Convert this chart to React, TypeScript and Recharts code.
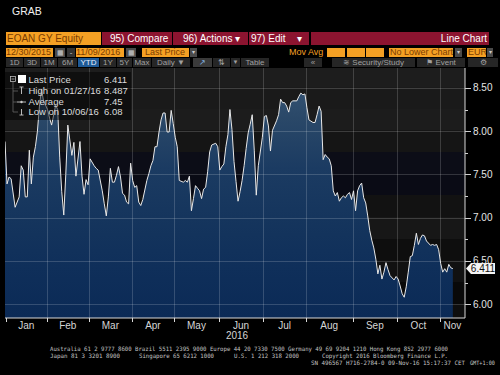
import React from 'react';
import { AreaChart, Area, XAxis, YAxis, ReferenceLine } from 'recharts';

// ---- data (trading-day index since 12/30/2015, last price in EUR) ----
const dayIndex = [
  0, 1, 2, 3, 5, 7, 8, 9, 10, 11, 12, 13, 14, 15, 16, 17, 18, 19, 21, 22, 23, 25, 26, 27, 28, 29, 30, 31, 33, 34, 35, 37, 38, 39, 40, 41, 42, 44, 45, 46, 48, 49, 50,
  51, 52, 53, 54, 55, 56, 57, 58, 59, 60, 61, 62, 63, 64, 65, 66, 67, 68, 70, 71, 72, 73, 74, 75, 76, 77, 78, 79, 80, 81, 82, 83, 84, 85, 86, 88, 89, 90,
  91, 92, 93, 94, 95, 96, 97, 98, 99, 100, 101, 102, 104, 105, 106, 107, 108, 109, 110, 111, 112, 113, 114, 115, 116, 117, 118, 119, 120, 121, 122, 123, 124, 125, 127, 128, 129, 130,
  131, 132, 134, 135, 136, 137, 138, 139, 140, 141, 142, 144, 145, 146, 147, 148, 149, 150, 152, 153, 154, 155, 156, 157, 158, 159, 160, 161, 162, 163, 164, 165, 166, 167, 168, 169, 170,
  171, 172, 173, 174, 175, 176, 177, 178, 179, 180, 181, 182, 183, 184, 185, 186, 187, 188, 189, 190, 192, 193, 194, 195, 196, 197, 198, 199, 200, 201, 202, 203, 204, 205, 206, 207, 208, 210,
  211, 212, 213, 214, 215, 216, 217, 218, 219, 220, 221,
];
const price = [
  7.88, 7.39, 7.47, 7.45, 7.12, 7.24, 7.60, 7.55, 7.24, 7.24, 7.78, 7.39, 7.70, 7.82, 8.00, 8.29, 8.487, 8.35, 8.25, 8.15, 8.07, 8.30, 8.25, 7.70, 7.30, 7.03, 7.50, 8.07, 7.72, 7.87, 7.48, 7.88, 7.48, 7.27, 7.44, 7.38, 7.68, 7.60, 7.57, 7.55, 7.31, 7.16, 7.02,
  7.24, 7.57, 7.41, 7.41, 7.49, 7.59, 7.47, 7.28, 7.26, 7.18, 7.16, 7.63, 7.43, 7.35, 7.37, 7.18, 7.14, 7.21, 7.43, 7.51, 7.60, 7.66, 7.82, 7.82, 7.99, 8.13, 8.21, 8.21, 7.99, 7.99, 8.24, 8.09, 7.93, 7.82, 7.43, 7.41, 7.43, 7.41,
  7.48, 7.08, 7.22, 7.37, 7.34, 7.31, 7.22, 7.33, 7.35, 7.53, 7.76, 7.84, 7.86, 7.82, 7.55, 7.59, 7.62, 7.82, 7.96, 8.25, 8.02, 7.65, 7.42, 7.19, 7.30, 7.43, 7.60, 7.80, 7.98, 8.08, 8.19, 7.78, 7.26, 7.60, 7.93, 8.17, 8.18, 8.06,
  7.77, 8.01, 8.12, 8.19, 8.37, 8.33, 8.33, 8.29, 8.22, 8.33, 8.35, 8.35, 8.40, 8.44, 8.42, 8.43, 8.27, 8.13, 8.10, 8.10, 8.19, 8.29, 8.23, 7.67, 7.73, 7.70, 7.68, 7.60, 7.31, 7.25, 7.29, 7.19, 7.23, 7.25, 7.23, 7.27, 7.29,
  7.21, 7.31, 7.08, 7.31, 7.37, 7.40, 7.23, 7.17, 7.02, 6.85, 6.74, 6.65, 6.52, 6.35, 6.45, 6.29, 6.37, 6.48, 6.40, 6.33, 6.28, 6.32, 6.29, 6.21, 6.12, 6.08, 6.20, 6.37, 6.55, 6.56, 6.68, 6.82, 6.69, 6.76, 6.80, 6.79, 6.73, 6.68,
  6.69, 6.68, 6.69, 6.63, 6.47, 6.37, 6.41, 6.37, 6.46, 6.42, 6.411,
];
const months = ['Jan', 'Feb', 'Mar', 'Apr', 'May', 'Jun', 'Jul', 'Aug', 'Sep', 'Oct', 'Nov'];
const monthFirstDay = [1, 21, 42, 63, 84, 106, 128, 149, 172, 194, 215];
const xMax = 227;
const yDomain = [5.84, 8.73];
const yMajor = [6.0, 6.5, 7.0, 7.5, 8.0, 8.5];
const yMinor = [6.25, 6.75, 7.25, 7.75, 8.25];
const lastPrice = 6.411;
const legendRows = [
  { label: 'Last Price', value: '6.411' },
  { label: 'High on 01/27/16', value: '8.487' },
  { label: 'Average', value: '7.45' },
  { label: 'Low on 10/06/16', value: '6.08' },
];

const data = dayIndex.map((d, i) => ({ d, p: price[i] }));
const boundaries = monthFirstDay.map((d) => d - 0.5);
const labelCenters = monthFirstDay.map((d, i) => {
  const start = d - 0.5;
  const end = i + 1 < monthFirstDay.length ? monthFirstDay[i + 1] - 0.5 : xMax;
  return (start + end) / 2;
});
const xTicks = [...boundaries, ...labelCenters].sort((a, b) => a - b);

// layout
const M = { top: 68, right: 0, bottom: 37, left: 5 };
const W = 500;
const H = 375;
const X_AXIS_H = 20;
const Y_AXIS_W = 35;
const PLOT_W = W - M.left - M.right - Y_AXIS_W;
const PLOT_H = H - M.top - M.bottom - X_AXIS_H;

const FONT = '"Liberation Sans", Arial, sans-serif';
const ORANGE = '#f4a024';
const ORANGE_TXT = '#7a3c00';
const RED = '#8c1430';
const BTN = '#262626';
const BTN_TXT = '#a0a0a0';

const crisp = (v: number) => Math.round(v) + 0.5;

function GridRule(p: { x1: number; y1: number; x2: number; y2: number }) {
  return (
    <line x1={p.x1} y1={p.y1} x2={p.x2} y2={p.y2} stroke="#ffffff" strokeOpacity={0.17} strokeWidth={1} shapeRendering="crispEdges" />
  );
}

function XTick(props: any) {
  const { x, y, payload } = props;
  const v = payload.value;
  const bi = boundaries.indexOf(v);
  if (bi >= 0) {
    const cx = crisp(x);
    return (
      <g>
        {bi > 0 && <GridRule x1={cx} x2={cx} y1={Math.round(y)} y2={Math.round(y) - PLOT_H} />}
        <line x1={cx} x2={cx} y1={y} y2={y + 4} stroke="#d8d8d8" strokeWidth={1} shapeRendering="crispEdges" />
      </g>
    );
  }
  const li = labelCenters.indexOf(v);
  return (
    <text x={x} y={y + 11} textAnchor="middle" fill="#d6d6d6" fontSize={10} fontFamily={FONT}>
      {months[li]}
    </text>
  );
}

function YTick(props: any) {
  const { x, y, payload } = props;
  const v = payload.value as number;
  const major = yMajor.includes(v);
  const cy = crisp(y);
  return (
    <g>
      {major && <GridRule x1={x} x2={x - PLOT_W} y1={cy} y2={cy} />}
      <line x1={x} x2={x + (major ? 6 : 3)} y1={cy} y2={cy} stroke="#d0d0d0" strokeWidth={1} shapeRendering="crispEdges" />
      {major && (
        <text x={x + 8} y={y + 3.5} fill="#e4e4e4" fontSize={10} fontFamily={FONT}>
          {v.toFixed(2)}
        </text>
      )}
    </g>
  );
}

function LastLabel(props: any) {
  const vb = props.viewBox || {};
  const x = (vb.x || 0) + (vb.width || 0) + 1;
  const y = vb.y || 0;
  return (
    <g>
      <polygon
        points={`${x},${y} ${x + 5},${y - 5.5} ${x + 29},${y - 5.5} ${x + 29},${y + 5.5} ${x + 5},${y + 5.5}`}
        fill="#f4f4f4"
      />
      <text x={x + 17} y={y + 3.5} textAnchor="middle" fill="#111" fontSize={10} fontFamily={FONT}>
        {lastPrice.toFixed(3)}
      </text>
    </g>
  );
}

function Box(p: {
  x: number; y: number; w: number; h: number; bg?: string; color?: string; size?: number;
  align?: 'left' | 'center' | 'right'; pad?: number; children?: React.ReactNode;
}) {
  return (
    <div
      style={{
        position: 'absolute', left: p.x, top: p.y, width: p.w, height: p.h, background: p.bg || 'transparent',
        color: p.color || '#fff', fontSize: p.size || 9, lineHeight: `${p.h}px`, textAlign: p.align || 'left',
        paddingLeft: p.align === 'right' ? 0 : p.pad ?? 1, paddingRight: p.align === 'right' ? p.pad ?? 2 : 0,
        boxSizing: 'border-box', whiteSpace: 'nowrap', overflow: 'hidden', fontFamily: FONT,
      }}
    >
      {p.children}
    </div>
  );
}

const bandBg =
  'linear-gradient(to bottom, #1d1d1d 0%, #1d1d1d 7.6%, #1a1a1a 7.6%, #1a1a1a 16.3%, #1c1c1c 16.3%, #1c1c1c 25%, ' +
  '#151515 25%, #151515 33.6%, #0c0d17 33.6%, #0c0d17 42.3%, #0a0b15 42.3%, #0a0b15 51%, #121212 51%, #121212 59.6%, ' +
  '#171717 59.6%, #171717 68.3%, #0e0e0e 68.3%, #0e0e0e 77%, #111111 77%, #111111 85.6%, #090909 85.6%, #090909 94.3%, #0e0e0e 94.3%)';

const btnRow: [string, number, number, boolean?][] = [
  ['1D', 6, 17], ['3D', 24, 16], ['1M', 41, 16], ['6M', 58, 19], ['YTD', 78, 21, true], ['1Y', 100, 16],
  ['5Y', 117, 15], ['Max', 133, 18], ['Daily \u25BC', 152, 38],
];

export default function App() {
  return (
    <div style={{ position: 'absolute', left: 0, top: 0, width: W, height: H, background: '#000', overflow: 'hidden', fontFamily: FONT }}>
      {/* plot background bands */}
      <div style={{ position: 'absolute', left: M.left, top: M.top, width: PLOT_W, height: PLOT_H, background: bandBg }} />

      <div style={{ position: 'absolute', left: 0, top: 0, width: W, height: H }}>
        <AreaChart width={W} height={H} data={data} margin={M}>
          <defs>
            <linearGradient id="fillGrad" x1="0" y1="68" x2="0" y2="318" gradientUnits="userSpaceOnUse">
              <stop offset="0" stopColor="#3a5878" />
              <stop offset="0.2" stopColor="#2a4868" />
              <stop offset="0.4" stopColor="#1b3b62" />
              <stop offset="0.6" stopColor="#15355d" />
              <stop offset="0.8" stopColor="#0f2f5a" />
              <stop offset="1" stopColor="#0b2a56" />
            </linearGradient>
          </defs>
          <Area
            type="linear"
            dataKey="p"
            stroke="#e8e8e8"
            strokeWidth={1}
            fill="url(#fillGrad)"
            fillOpacity={1}
            dot={false}
            activeDot={false}
            isAnimationActive={false}
          />
          <XAxis
            dataKey="d"
            type="number"
            domain={[0, xMax]}
            allowDataOverflow
            ticks={xTicks}
            interval={0}
            tick={<XTick />}
            tickLine={false}
            tickSize={0}
            tickMargin={0}
            height={X_AXIS_H}
            axisLine={{ stroke: '#d8d8d8', strokeWidth: 1 }}
          />
          <YAxis
            orientation="right"
            type="number"
            domain={yDomain}
            allowDataOverflow
            ticks={[...yMajor, ...yMinor].sort((a, b) => a - b)}
            interval={0}
            tick={<YTick />}
            tickLine={false}
            tickSize={0}
            tickMargin={0}
            width={Y_AXIS_W}
            axisLine={{ stroke: '#d8d8d8', strokeWidth: 1 }}
          />
          <ReferenceLine y={lastPrice} stroke="none" strokeOpacity={0} ifOverflow="visible" label={(p: any) => <LastLabel {...p} />} />
        </AreaChart>
      </div>

      {/* legend overlay */}
      <div style={{ position: 'absolute', left: 5, top: 72, width: 126, height: 48, background: 'rgba(0,0,0,0.45)' }} />
      <svg width={W} height={H} style={{ position: 'absolute', left: 0, top: 0, pointerEvents: 'none' }}>
        {/* legend tree */}
        <rect x={10.5} y={76.5} width={5} height={5} fill="none" stroke="#bbb" strokeWidth={0.8} />
        <line x1={11.5} x2={14.5} y1={79} y2={79} stroke="#bbb" strokeWidth={0.8} />
        <rect x={18} y={75} width={8} height={8} fill="#fff" />
        <line x1={13} x2={13} y1={82} y2={112} stroke="#666" strokeWidth={0.8} />
        <line x1={13} x2={18} y1={91} y2={91} stroke="#666" strokeWidth={0.8} />
        <line x1={13} x2={17} y1={102} y2={102} stroke="#666" strokeWidth={0.8} />
        <line x1={13} x2={18} y1={112} y2={112} stroke="#666" strokeWidth={0.8} />
        <line x1={19.5} x2={23.5} y1={87} y2={87} stroke="#ccc" strokeWidth={0.9} />
        <line x1={21.5} x2={21.5} y1={87} y2={94} stroke="#ccc" strokeWidth={0.9} />
        <line x1={17} x2={26} y1={102} y2={102} stroke="#ccc" strokeWidth={0.9} />
        <circle cx={21.5} cy={102} r={1.2} fill="#ccc" />
        <line x1={21.5} x2={21.5} y1={109} y2={115} stroke="#ccc" strokeWidth={0.9} />
        <line x1={19.5} x2={23.5} y1={115} y2={115} stroke="#ccc" strokeWidth={0.9} />
        {legendRows.map((r, i) => (
          <g key={r.label}>
            <text x={28.5} y={83 + i * 10.8} fill="#dcdcdc" fontSize={9.5} fontFamily={FONT}>{r.label}</text>
            <text x={104} y={83 + i * 10.8} fill="#dcdcdc" fontSize={9.5} fontFamily={FONT}>{r.value}</text>
          </g>
        ))}
        {/* year */}
        <text x={237} y={339} textAnchor="middle" fill="#d6d6d6" fontSize={10} fontFamily={FONT}>2016</text>
        {/* footer */}
        <g fill="#c4c4c4" fontSize={6} fontFamily='"DejaVu Sans Mono", monospace'>
          <text x={50} y={351} textLength={398} lengthAdjust="spacingAndGlyphs">
            Australia 61 2 9777 8600 Brazil 5511 2395 9000 Europe 44 20 7330 7500 Germany 49 69 9204 1210 Hong Kong 852 2977 6000
          </text>
          <text x={50} y={357.5} textLength={70} lengthAdjust="spacingAndGlyphs">Japan 81 3 3201 8900</text>
          <text x={139} y={357.5} textLength={75} lengthAdjust="spacingAndGlyphs">Singapore 65 6212 1000</text>
          <text x={234} y={357.5} textLength={65} lengthAdjust="spacingAndGlyphs">U.S. 1 212 318 2000</text>
          <text x={322} y={357.5} textLength={126} lengthAdjust="spacingAndGlyphs">Copyright 2016 Bloomberg Finance L.P.</text>
          <text x={311} y={364.5} textLength={154} lengthAdjust="spacingAndGlyphs">SN 496567 H716-2784-0 09-Nov-16 15:17:37 CET</text>
          <text x={470} y={364.5} textLength={25} lengthAdjust="spacingAndGlyphs">GMT+1:00</text>
        </g>
      </svg>

      {/* header */}
      <Box x={12} y={5} w={40} h={12} color="#f0f0f0" size={10.5} pad={0}>GRAB</Box>

      <Box x={6} y={32} w={95} h={13} bg={ORANGE} color={ORANGE_TXT} size={10}>EOAN GY Equity</Box>
      <Box x={102} y={32} w={70} h={13} bg={RED} size={10} pad={8}>95) Compare</Box>
      <Box x={173} y={32} w={75} h={13} bg={RED} size={10} pad={10}>96) Actions {'\u25BE'}</Box>
      <Box x={249} y={32} w={60} h={13} bg={RED} size={10} pad={2}>97) Edit {'\u00A0\u00A0\u00A0\u25BE'}</Box>
      <Box x={311} y={32} w={178} h={13} bg={RED} size={10} align="right" pad={2}>Line Chart</Box>

      <Box x={6} y={47.5} w={47} h={9} bg={ORANGE} color={ORANGE_TXT} size={9} pad={0}>12/30/2015</Box>
      <Box x={55} y={47.5} w={10} h={9} bg="#4a4a4a" color="#ccc" size={7} align="center" pad={0}>{'\u25A6'}</Box>
      <Box x={67} y={47.5} w={8} h={9} bg="#333" color="#ccc" size={8} align="center" pad={0}>-</Box>
      <Box x={76} y={47.5} w={48} h={9} bg={ORANGE} color={ORANGE_TXT} size={9} pad={0}>11/09/2016</Box>
      <Box x={126} y={47.5} w={10} h={9} bg="#4a4a4a" color="#ccc" size={7} align="center" pad={0}>{'\u25A6'}</Box>
      <Box x={142} y={47.5} w={47} h={9} bg={ORANGE} color={ORANGE_TXT} size={9} pad={3}>Last Price</Box>
      <Box x={190} y={47.5} w={7} h={9} bg="#4a4a4a" color="#ccc" size={6} align="center" pad={0}>{'\u25BE'}</Box>
      <Box x={289} y={47.5} w={38} h={9} color={ORANGE} size={9} pad={0}>Mov Avg</Box>
      <Box x={327} y={47.5} w={18} h={9} bg={ORANGE} />
      <Box x={346.5} y={47.5} w={18} h={9} bg={ORANGE} />
      <Box x={366} y={47.5} w={18} h={9} bg={ORANGE} />
      <Box x={389} y={47.5} w={64} h={9} bg={ORANGE} color={ORANGE_TXT} size={9} pad={1}>No Lower Chart</Box>
      <Box x={455} y={47.5} w={7} h={9} bg="#4a4a4a" color="#ccc" size={6} align="center" pad={0}>{'\u25BE'}</Box>
      <Box x={467} y={47.5} w={19} h={9} bg={ORANGE} color={ORANGE_TXT} size={9} pad={1}>EUR</Box>
      <Box x={487} y={47.5} w={6} h={9} bg="#4a4a4a" color="#ccc" size={6} align="center" pad={0}>{'\u25BE'}</Box>

      {btnRow.map(([t, x, w, hl]) => (
        <Box key={t} x={x} y={57.5} w={w} h={9} bg={hl ? '#1f5a96' : BTN} color={hl ? '#e8f0ff' : BTN_TXT} size={8} align="center" pad={0}>{t}</Box>
      ))}
      <Box x={193} y={57.5} w={19} h={9} bg="#3a3a3a" color="#7fb0e0" size={8} align="center" pad={0}>{'\u2197'}</Box>
      <Box x={213} y={57.5} w={17} h={9} bg={BTN} color={BTN_TXT} size={8} align="center" pad={0}>{'\u21C5'}</Box>
      <Box x={231} y={57.5} w={9} h={9} bg={BTN} color={BTN_TXT} size={6} align="center" pad={0}>{'\u25BC'}</Box>
      <Box x={241} y={57.5} w={28} h={9} bg={BTN} color={BTN_TXT} size={8} align="center" pad={0}>Table</Box>
      <Box x={304} y={57.5} w={18} h={9} bg={BTN} color={BTN_TXT} size={8} align="center" pad={0}>{'\u00AB'}</Box>
      <Box x={332} y={57.5} w={83} h={9} bg={BTN} color={BTN_TXT} size={8} align="center" pad={0}>{'\u224B'} Security/Study</Box>
      <Box x={417} y={57.5} w={48} h={9} bg={BTN} color={BTN_TXT} size={8} align="center" pad={0}>{'\u2691'} Event</Box>
      <Box x={468} y={57.5} w={30} h={9} bg={BTN} color={BTN_TXT} size={8} align="center" pad={0}>{'\u2699'}</Box>
    </div>
  );
}
